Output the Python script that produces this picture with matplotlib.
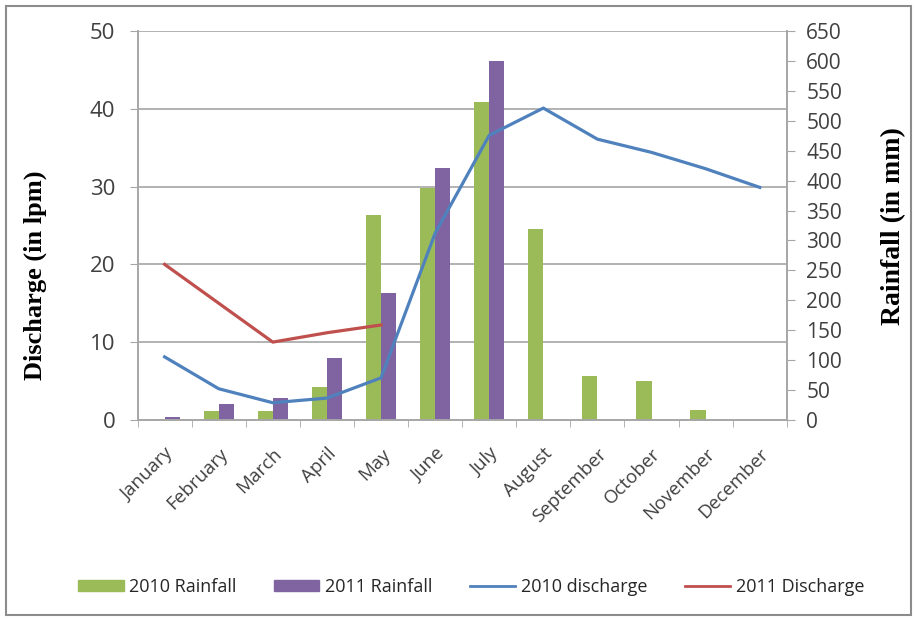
import numpy as np
import matplotlib.pyplot as plt
from matplotlib.patches import Rectangle, Patch
from matplotlib.lines import Line2D

# Data
months = ["January", "February", "March", "April", "May", "June",
          "July", "August", "September", "October", "November", "December"]
rain_2010 = [2, 15, 15, 55, 343, 388, 532, 319, 74, 65, 17, 0]
rain_2011 = [5, 27, 37, 104, 212, 421, 600]
discharge_2010 = [8.1, 4.0, 2.2, 2.8, 5.4, 24.0, 36.6, 40.1, 36.1, 34.4, 32.3, 29.9]
discharge_2011 = [20.0, 15.0, 10.0, 11.2, 12.2]

green = "#9BBB59"
purple = "#8064A2"
blue = "#4F81BD"
red = "#C0504D"
grid = "#A6A6A6"
txt = "#404040"

plt.rcParams["font.family"] = ["Open Sans", "DejaVu Sans"]

fig = plt.figure(figsize=(9.17, 6.22), dpi=100)
ax = fig.add_axes([0.150, 0.325, 0.708, 0.625])
ax2 = ax.twinx()
ax.set_zorder(ax2.get_zorder() + 1)
ax.patch.set_visible(False)

x = np.arange(len(months))
w = 0.28
ax2.bar(x - w / 2, rain_2010, w, color=green, zorder=2)
ax2.bar(x[:len(rain_2011)] + w / 2, rain_2011, w, color=purple, zorder=2)
for v in [10, 20, 30, 40, 50]:
    ax2.axhline(v * 13, color=grid, lw=1.2, zorder=1)

ax.plot(x, discharge_2010, color=blue, lw=2.3, solid_joinstyle="round")
ax.plot(x[:len(discharge_2011)], discharge_2011, color=red, lw=2.3, solid_joinstyle="round")

ax.set_xlim(-0.5, 11.5)
ax.set_ylim(0, 50)
ax2.set_ylim(0, 650)
ax.set_yticks(np.arange(0, 51, 10))
ax2.set_yticks(np.arange(0, 651, 50))

# month labels, rotated like the Excel category axis
ax.set_xticks(x)
ax.set_xticklabels([])
for xi, m in zip(x, months):
    ax.annotate(m, (xi, 0), xycoords=("data", "axes fraction"), xytext=(0, -18),
                textcoords="offset points", rotation=45, ha="right", va="top",
                rotation_mode="anchor", fontsize=13.5, color=txt)
ax.set_xticks(np.arange(-0.5, 12, 1), minor=True)
ax.tick_params(axis="x", which="major", length=0)
ax.tick_params(axis="x", which="minor", length=5, color=grid)
ax.tick_params(axis="y", labelsize=16, length=6, color=grid, labelcolor=txt, pad=10)
ax2.tick_params(axis="y", labelsize=15, length=6, color=grid, labelcolor=txt, pad=8)

for a in (ax, ax2):
    a.spines["top"].set_visible(False)
    for s in ("left", "right", "bottom"):
        a.spines[s].set_color(grid)
        a.spines[s].set_linewidth(1.2)

ax.set_ylabel("Discharge (in lpm)", family="Liberation Serif", fontweight="bold", fontsize=19)
ax.yaxis.set_label_coords(-0.139, 0.373)
ax2.set_ylabel("Rainfall (in mm)", family="Liberation Serif", fontweight="bold", fontsize=20)
ax2.yaxis.set_label_coords(1.146, 0.499)

handles = [Patch(color=green), Patch(color=purple),
           Line2D([], [], color=blue, lw=2), Line2D([], [], color=red, lw=2)]
labels = ["2010 Rainfall", "2011 Rainfall", "2010 discharge", "2011 Discharge"]
fig.legend(handles, labels, loc="center", bbox_to_anchor=(0.514, 0.056), ncol=4,
           frameon=False, fontsize=13, handlelength=2.5, handleheight=0.55,
           columnspacing=2.1, handletextpad=0.3, labelcolor="#262626")

fig.patches.append(Rectangle((0.007, 0.012), 0.987, 0.978, transform=fig.transFigure,
                             fill=False, edgecolor="#8C8C8C", lw=1.5))

fig.savefig("out.png", dpi=100)
